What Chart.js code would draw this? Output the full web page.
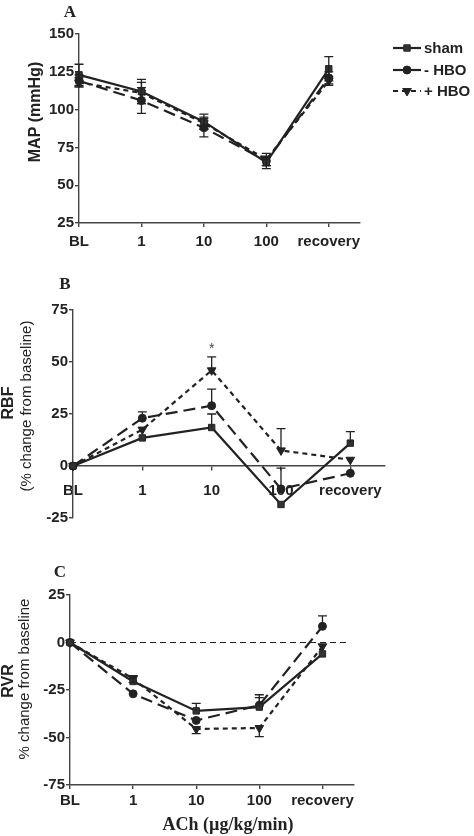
<!DOCTYPE html>
<html>
<head>
<meta charset="utf-8">
<script src="https://cdn.jsdelivr.net/npm/chart.js@4.4.0/dist/chart.umd.min.js"></script>
<style>
  body { margin: 0; background: #fff; }
  canvas { position: absolute; left: 0; }
</style>
</head>
<body>
<canvas id="chartA" width="474" height="270" style="top:0px"></canvas>
<canvas id="chartB" width="474" height="270" style="top:270px"></canvas>
<canvas id="chartC" width="474" height="296" style="top:540px"></canvas>
<script>
// categories on x axis
const categories = ['BL', '1', '10', '100', 'recovery']
const seriesNames = ['sham', '- HBO', '+ HBO']

// A - MAP (mmHg)
const mapSham = [123, 112, 92, 65, 127]
const mapShamErr = [7, 8, 5, 4, 8]
const mapMinus = [119, 106, 88, 66, 121]
const mapMinusErr = [4, 8.5, 6, 3, 4]
const mapPlus = [118, 111, 91, 67, 119]
const mapPlusErr = [3, 7, 4, 4, 3]
const mapTicks = [25, 150]

// B - RBF (% change from baseline)
const rbfSham = [0, 13.5, 18.5, -18.5, 11]
const rbfShamErr = [0, 0, 6.5, 0, 5.5]
const rbfMinus = [0, 23, 29, -11, -3.5]
const rbfMinusErr = [0, 3, 8, 10, 0]
const rbfPlus = [0, 17.5, 46, 7.5, 3]
const rbfPlusErr = [0, 0, 6.5, 10.5, 0]
const rbfTicks = [-25, 75]

// C - RVR (% change from baseline)
const rvrSham = [0, -20.5, -36, -34, -6]
const rvrShamErr = [0, 3, 4, 6.5, 0]
const rvrMinus = [0, -27, -41, -33, 8.5]
const rvrMinusErr = [0, 0, 0, 4, 5.5]
const rvrPlus = [0, -19, -45.5, -45, -2]
const rvrPlusErr = [0, 2, 2.5, 4.5, 0]
const rvrTicks = [-75, 25]

const ink = '#222'
const sans = '"Liberation Sans", Arial, sans-serif'
const serif = '"Liberation Serif", "Times New Roman", serif'

const toPoints = (vals) => vals.map((v, i) => ({ x: i, y: v }))

// one dataset per group, style of the line + marker
const makeDatasets = (sham, shamErr, minus, minusErr, plus, plusErr, dirs) => [
    {
        label: seriesNames[0], data: toPoints(sham), err: shamErr, errDir: dirs[0],
        borderColor: ink, backgroundColor: '#333', borderWidth: 2.2,
        pointStyle: 'rect', pointRadius: 4.5, pointBorderWidth: 1, clip: false
    },
    {
        label: seriesNames[1], data: toPoints(minus), err: minusErr, errDir: dirs[1],
        borderColor: ink, backgroundColor: ink, borderWidth: 2.2, borderDash: [12, 6],
        pointStyle: 'circle', pointRadius: 4, pointBorderWidth: 1, clip: false
    },
    {
        label: seriesNames[2], data: toPoints(plus), err: plusErr, errDir: dirs[2],
        borderColor: ink, backgroundColor: ink, borderWidth: 2.2, borderDash: [5, 4],
        pointStyle: 'triangle', rotation: 180, pointRadius: 5, pointBorderWidth: 1, clip: false
    }
]

const xScale = (labelPad, height, atZero) => {
    const s = {
        type: 'linear', min: 0, max: 4.5,
        // one tick per category, nothing at the end of the axis
        afterBuildTicks: (sc) => { sc.ticks = categories.map((c, i) => ({ value: i })) },
        ticks: {
            autoSkip: false, maxRotation: 0, padding: labelPad, color: ink,
            font: { family: sans, weight: 'bold', size: 15 },
            callback: (v) => categories[v]
        },
        grid: { drawOnChartArea: false, tickLength: 4, color: '#444', lineWidth: 1.4 },
        border: { color: '#444', width: 1.4 }
    }
    if (atZero) s.position = { y: 0 }
    else s.afterFit = (sc) => { sc.height = height }
    return s
}

const yScale = (range, width) => ({
    min: range[0], max: range[1],
    afterFit: (sc) => { sc.width = width },
    ticks: { stepSize: 25, padding: 1, color: ink, font: { family: sans, weight: 'bold', size: 15 } },
    grid: { drawOnChartArea: false, tickLength: 4, color: '#444', lineWidth: 1.4 },
    border: { color: '#444', width: 1.4 }
})

// error bars: dir 1 = up, -1 = down, 0 = both
const errorBars = {
    id: 'errorBars',
    afterDatasetsDraw(chart) {
        const ctx = chart.ctx
        const y = chart.scales.y
        ctx.save()
        ctx.strokeStyle = ink
        ctx.lineWidth = 1.3
        chart.data.datasets.forEach((ds, i) => {
            const meta = chart.getDatasetMeta(i)
            meta.data.forEach((pt, j) => {
                const e = ds.err[j]
                if (!e) return
                const v = ds.data[j].y
                const top = ds.errDir >= 0 ? y.getPixelForValue(v + e) : pt.y
                const bot = ds.errDir <= 0 ? y.getPixelForValue(v - e) : pt.y
                ctx.beginPath()
                ctx.moveTo(pt.x, top)
                ctx.lineTo(pt.x, bot)
                if (ds.errDir >= 0) { ctx.moveTo(pt.x - 4.5, top); ctx.lineTo(pt.x + 4.5, top) }
                if (ds.errDir <= 0) { ctx.moveTo(pt.x - 4.5, bot); ctx.lineTo(pt.x + 4.5, bot) }
                ctx.stroke()
            })
        })
        ctx.restore()
    }
}

// free text: panel letter and y titles
const textPlugin = (items) => ({
    id: 'texts',
    afterDraw(chart) {
        const ctx = chart.ctx
        ctx.save()
        ctx.fillStyle = ink
        ctx.textAlign = 'center'
        ctx.textBaseline = 'middle'
        items.forEach(t => {
            ctx.save()
            ctx.font = t.font
            ctx.translate(t.x, t.y)
            if (t.rot) ctx.rotate(-Math.PI / 2)
            ctx.fillText(t.text, 0, 0)
            ctx.restore()
        })
        ctx.restore()
    }
})

const legendPlugin = {
    id: 'customLegend',
    afterDraw(chart) {
        const ctx = chart.ctx
        const rows = [48, 70, 91]
        ctx.save()
        chart.data.datasets.forEach((ds, i) => {
            const yy = rows[i]
            ctx.strokeStyle = ink
            ctx.lineWidth = 2.2
            ctx.setLineDash(i === 2 ? [5, 4] : [])
            ctx.beginPath()
            ctx.moveTo(393, yy)
            ctx.lineTo(421, yy)
            ctx.stroke()
            ctx.setLineDash([])
            ctx.fillStyle = ds.backgroundColor
            ctx.lineWidth = 1
            Chart.helpers.drawPoint(ctx, { pointStyle: ds.pointStyle, rotation: ds.rotation || 0, radius: ds.pointRadius, borderWidth: 1 }, 407, yy)
            ctx.fillStyle = ink
            ctx.font = 'bold 15px ' + sans
            ctx.textAlign = 'left'
            ctx.textBaseline = 'middle'
            ctx.fillText(ds.label, 424, yy + 1)
        })
        ctx.restore()
    }
}

const starPlugin = {
    id: 'star',
    afterDraw(chart) {
        const ds = chart.data.datasets[2]
        const x = chart.scales.x.getPixelForValue(2)
        const y = chart.scales.y.getPixelForValue(ds.data[2].y + ds.err[2])
        const ctx = chart.ctx
        ctx.save()
        ctx.fillStyle = '#444'
        ctx.font = '14px ' + sans
        ctx.textAlign = 'center'
        ctx.fillText('*', x, y - 4)
        ctx.restore()
    }
}

const zeroLine = {
    id: 'zeroLine',
    beforeDatasetsDraw(chart) {
        const y = chart.scales.y.getPixelForValue(0)
        const ctx = chart.ctx
        ctx.save()
        ctx.strokeStyle = ink
        ctx.lineWidth = 1.2
        ctx.setLineDash([6, 4])
        ctx.beginPath()
        ctx.moveTo(chart.chartArea.left, y)
        ctx.lineTo(chart.chartArea.right - 5, y)
        ctx.stroke()
        ctx.restore()
    }
}

const baseOptions = (scales, padding) => ({
    responsive: false,
    animation: false,
    devicePixelRatio: 1,
    layout: { padding: padding },
    plugins: { legend: { display: false }, tooltip: { enabled: false } },
    scales: scales
})

new Chart(document.getElementById('chartA'), {
    type: 'line',
    data: { datasets: makeDatasets(mapSham, mapShamErr, mapMinus, mapMinusErr, mapPlus, mapPlusErr, [0, 0, 0]) },
    options: baseOptions({ x: xScale(6, 47, false), y: yScale(mapTicks, 79) }, { left: 0, right: 114, top: 34, bottom: 0 }),
    plugins: [errorBars, legendPlugin, textPlugin([
        { text: 'A', x: 70, y: 13, font: 'bold 17px ' + serif },
        { text: 'MAP (mmHg)', x: 36, y: 112, rot: true, font: 'bold 16px ' + sans }
    ])]
})

new Chart(document.getElementById('chartB'), {
    type: 'line',
    data: { datasets: makeDatasets(rbfSham, rbfShamErr, rbfMinus, rbfMinusErr, rbfPlus, rbfPlusErr, [1, 1, 1]) },
    options: baseOptions({ x: xScale(12, 0, true), y: yScale(rbfTicks, 73) }, { left: 0, right: 89, top: 40, bottom: 22 }),
    plugins: [errorBars, starPlugin, textPlugin([
        { text: 'B', x: 65, y: 15, font: 'bold 17px ' + serif },
        { text: 'RBF', x: 9, y: 133, rot: true, font: 'bold 16px ' + sans },
        { text: '(% change from baseline)', x: 27, y: 136, rot: true, font: '15px ' + sans }
    ])]
})

new Chart(document.getElementById('chartC'), {
    type: 'line',
    data: { datasets: makeDatasets(rvrSham, rvrShamErr, rvrMinus, rvrMinusErr, rvrPlus, rvrPlusErr, [1, 1, -1]) },
    options: baseOptions({ x: xScale(3, 51, false), y: yScale(rvrTicks, 70) }, { left: 0, right: 120, top: 55, bottom: 0 }),
    plugins: [zeroLine, errorBars, textPlugin([
        { text: 'C', x: 60, y: 33, font: 'bold 17px ' + serif },
        { text: 'RVR', x: 9, y: 141, rot: true, font: 'bold 16px ' + sans },
        { text: '% change from baseline', x: 25, y: 139, rot: true, font: '15px ' + sans },
        { text: 'ACh (\u00b5g/kg/min)', x: 228, y: 285, font: 'bold 18px ' + serif }
    ])]
})
</script>
</body>
</html>
